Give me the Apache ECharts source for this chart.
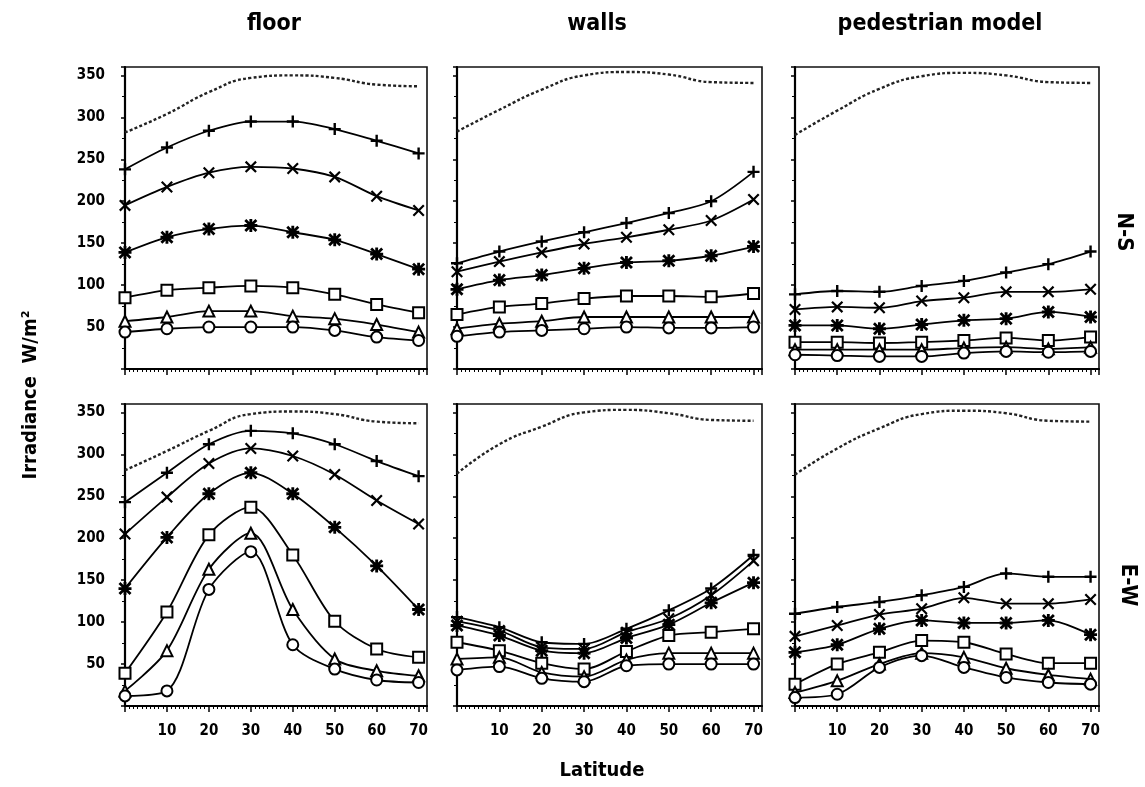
<!DOCTYPE html>
<html>
<head>
<meta charset="utf-8">
<script src="https://cdn.jsdelivr.net/npm/echarts@6/dist/echarts.min.js"></script>
<style>html,body{margin:0;padding:0;background:#fff}#c{width:1145px;height:787px}</style>
</head>
<body>
<div id="c"></div>
<script>
// ---- data ----
const latitude = [0, 10, 20, 30, 40, 50, 60, 70];
const panelTitles = ['floor', 'walls', 'pedestrian model'];
const rowLabels = ['N-S', 'E-W'];
const xTickLabels = [10, 20, 30, 40, 50, 60, 70];
const yTickLabels = [50, 100, 150, 200, 250, 300, 350];
const seriesNames = ['global', 'plus', 'cross', 'asterisk', 'square', 'triangle', 'circle'];

// floor, N-S
const floorNS_global   = [282, 304, 330, 347, 350, 347, 339, 337];
const floorNS_plus     = [238, 264, 284, 295, 295, 286, 272, 257];
const floorNS_cross    = [195, 217, 234, 241, 239, 229, 206, 189];
const floorNS_asterisk = [139, 157, 167, 171, 163, 154, 137, 119];
const floorNS_square   = [85, 94, 97, 99, 97, 89, 77, 67];
const floorNS_triangle = [57, 62, 69, 69, 63, 60, 53, 44];
const floorNS_circle   = [44, 48, 50, 50, 50, 46, 38, 34];
// walls, N-S
const wallsNS_global   = [283, 309, 333, 350, 354, 351, 342, 341];
const wallsNS_plus     = [126, 140, 152, 163, 174, 186, 200, 235];
const wallsNS_cross    = [116, 128, 139, 149, 157, 166, 177, 202];
const wallsNS_asterisk = [95, 106, 112, 120, 127, 129, 135, 146];
const wallsNS_square   = [65, 74, 78, 84, 87, 87, 86, 90];
const wallsNS_triangle = [48, 54, 57, 62, 62, 62, 62, 62];
const wallsNS_circle   = [39, 44, 46, 48, 50, 49, 49, 50];
// pedestrian model, N-S
const pedNS_global   = [279, 308, 334, 349, 353, 350, 342, 341];
const pedNS_plus     = [89, 93, 92, 99, 105, 115, 125, 140];
const pedNS_cross    = [71, 74, 73, 81, 85, 92, 92, 95];
const pedNS_asterisk = [52, 52, 48, 53, 58, 60, 68, 62];
const pedNS_square   = [32, 32, 31, 32, 34, 37, 34, 38];
const pedNS_triangle = [23, 23, 23, 23, 25, 26, 24, 26];
const pedNS_circle   = [17, 16, 15, 15, 19, 21, 20, 21];
// floor, E-W
const floorEW_global   = [281, 304, 328, 348, 351, 348, 339, 337];
const floorEW_plus     = [243, 278, 312, 328, 325, 312, 292, 274];
const floorEW_cross    = [205, 249, 289, 307, 298, 276, 245, 217];
const floorEW_asterisk = [140, 201, 253, 278, 253, 213, 167, 115];
const floorEW_square   = [39, 112, 204, 237, 180, 101, 68, 58];
const floorEW_triangle = [18, 66, 163, 206, 115, 56, 42, 36];
const floorEW_circle   = [12, 18, 139, 184, 73, 44, 31, 28];
// walls, E-W
const wallsEW_global   = [277, 312, 333, 350, 353, 349, 341, 340];
const wallsEW_plus     = [106, 94, 76, 74, 92, 114, 140, 180];
const wallsEW_cross    = [101, 90, 70, 68, 88, 104, 132, 173];
const wallsEW_asterisk = [96, 84, 66, 63, 81, 97, 123, 147];
const wallsEW_square   = [76, 66, 51, 44, 65, 84, 88, 92];
const wallsEW_triangle = [56, 58, 40, 35, 55, 63, 63, 63];
const wallsEW_circle   = [43, 47, 33, 29, 48, 50, 50, 50];
// pedestrian model, E-W
const pedEW_global   = [276, 307, 331, 348, 352, 349, 340, 339];
const pedEW_plus     = [110, 118, 124, 132, 142, 158, 154, 154];
const pedEW_cross    = [83, 96, 109, 116, 129, 122, 122, 127];
const pedEW_asterisk = [64, 73, 92, 102, 99, 99, 102, 85];
const pedEW_square   = [26, 50, 64, 78, 76, 62, 51, 51];
const pedEW_triangle = [16, 30, 50, 63, 58, 45, 37, 32];
const pedEW_circle   = [10, 14, 46, 60, 46, 34, 28, 26];

const panels = [
  [floorNS_global, floorNS_plus, floorNS_cross, floorNS_asterisk, floorNS_square, floorNS_triangle, floorNS_circle],
  [wallsNS_global, wallsNS_plus, wallsNS_cross, wallsNS_asterisk, wallsNS_square, wallsNS_triangle, wallsNS_circle],
  [pedNS_global, pedNS_plus, pedNS_cross, pedNS_asterisk, pedNS_square, pedNS_triangle, pedNS_circle],
  [floorEW_global, floorEW_plus, floorEW_cross, floorEW_asterisk, floorEW_square, floorEW_triangle, floorEW_circle],
  [wallsEW_global, wallsEW_plus, wallsEW_cross, wallsEW_asterisk, wallsEW_square, wallsEW_triangle, wallsEW_circle],
  [pedEW_global, pedEW_plus, pedEW_cross, pedEW_asterisk, pedEW_square, pedEW_triangle, pedEW_circle]
];

// ---- layout / style ----
const colLeft = [125, 457, 795];
const colWidth = [302, 305, 304];
const rowTop = [67, 404];
const rowHeight = 302;
const labelFont = "'DejaVu Sans Condensed', 'Liberation Sans Narrow', sans-serif";
const titleFont = "'DejaVu Sans Condensed', 'Liberation Sans', sans-serif";

const PLUS = 'path://M4,0H6V4H10V6H6V10H4V6H0V4H4Z';
const CROSS = 'path://M1.3,0L5,3.7L8.7,0L10,1.3L6.3,5L10,8.7L8.7,10L5,6.3L1.3,10L0,8.7L3.7,5L0,1.3Z';
const STAR = 'path://M3.9,0H6.1V3.9H10V6.1H6.1V10H3.9V6.1H0V3.9H3.9Z M1.5,0L5,3.5L8.5,0L10,1.5L6.5,5L10,8.5L8.5,10L5,6.5L1.5,10L0,8.5L3.5,5L0,1.5Z';

function markerStyle(k) {
  switch (k) {
    case 1: return {symbol: PLUS, symbolSize: 12, itemStyle: {color: '#000'}};
    case 2: return {symbol: CROSS, symbolSize: 12, itemStyle: {color: '#000'}};
    case 3: return {symbol: STAR, symbolSize: 13, itemStyle: {color: '#000'}};
    case 4: return {symbol: 'rect', symbolSize: 11, itemStyle: {color: '#fff', borderColor: '#000', borderWidth: 2}};
    case 5: return {symbol: 'triangle', symbolSize: 11, itemStyle: {color: '#fff', borderColor: '#000', borderWidth: 2}};
    case 6: return {symbol: 'circle', symbolSize: 11, itemStyle: {color: '#fff', borderColor: '#000', borderWidth: 2}};
  }
}

const grid = [], xAxis = [], yAxis = [], series = [];
for (let p = 0; p < 6; p++) {
  const r = Math.floor(p / 3), c = p % 3;
  grid.push({left: colLeft[c], top: rowTop[r], width: colWidth[c], height: rowHeight,
    show: true, borderColor: '#111', borderWidth: 1.6, backgroundColor: 'transparent'});
  xAxis.push({
    type: 'value', gridIndex: p, min: 0, max: 72, interval: 10,
    axisLine: {show: true, onZero: false, lineStyle: {color: '#000', width: 2.2}},
    axisTick: {show: true, length: 6, lineStyle: {color: '#000', width: 1.5}},
    minorTick: {show: true, splitNumber: 10, length: 3, lineStyle: {color: '#000', width: 1}},
    splitLine: {show: false},
    axisLabel: {show: r === 1, margin: 18, color: '#000', fontFamily: labelFont, fontWeight: 'bold', fontSize: 15,
      formatter: v => xTickLabels.includes(v) ? String(v) : ''}
  });
  yAxis.push({
    type: 'value', gridIndex: p, min: 0, max: 360, interval: 50,
    axisLine: {show: true, onZero: false, lineStyle: {color: '#000', width: 2.2}},
    axisTick: {show: true, length: 4, lineStyle: {color: '#000', width: 1.5}},
    minorTick: {show: true, splitNumber: 2, length: 3, lineStyle: {color: '#000', width: 1}},
    splitLine: {show: false},
    axisLabel: {show: c === 0, margin: 20, color: '#000', fontFamily: labelFont, fontWeight: 'bold', fontSize: 15,
      formatter: v => yTickLabels.includes(v) ? String(v) : ''}
  });
  panels[p].forEach((vals, k) => {
    const data = latitude.map((x, i) => [x, vals[i]]);
    if (k === 0) {
      series.push({type: 'line', name: seriesNames[k], xAxisIndex: p, yAxisIndex: p, data,
        smooth: true, showSymbol: false, symbol: 'none',
        lineStyle: {color: '#222', width: 2.4, type: [3, 2.2]}, z: 2, silent: true});
    } else {
      series.push(Object.assign({type: 'line', name: seriesNames[k], xAxisIndex: p, yAxisIndex: p, data,
        smooth: 0.3, showSymbol: true, lineStyle: {color: '#000', width: 1.8}, z: 3, silent: true}, markerStyle(k)));
    }
  });
}

const graphic = [
  {type: 'text', x: 274, y: 24, style: {text: panelTitles[0], font: "bold 23px " + titleFont, fill: '#000', align: 'center', verticalAlign: 'middle'}},
  {type: 'text', x: 597, y: 24, style: {text: panelTitles[1], font: "bold 23px " + titleFont, fill: '#000', align: 'center', verticalAlign: 'middle'}},
  {type: 'text', x: 940, y: 24, style: {text: panelTitles[2], font: "bold 23px " + titleFont, fill: '#000', align: 'center', verticalAlign: 'middle'}},
  {type: 'text', x: 1124, y: 232, rotation: -Math.PI / 2, style: {text: rowLabels[0], font: "bold 22px " + titleFont, fill: '#000', align: 'center', verticalAlign: 'middle'}},
  {type: 'text', x: 1128, y: 585, rotation: -Math.PI / 2, style: {text: rowLabels[1], font: "bold 22px " + titleFont, fill: '#000', align: 'center', verticalAlign: 'middle'}},
  {type: 'text', x: 31, y: 395, rotation: Math.PI / 2, style: {text: 'Irradiance  W/m²', font: "bold 20px " + labelFont, fill: '#000', align: 'center', verticalAlign: 'middle'}},
  {type: 'text', x: 602, y: 771, style: {text: 'Latitude', font: "bold 20px " + labelFont, fill: '#000', align: 'center', verticalAlign: 'middle'}}
];

const chart = echarts.init(document.getElementById('c'), null, {renderer: 'canvas'});
chart.setOption({animation: false, backgroundColor: '#fff', grid, xAxis, yAxis, series, graphic});
</script>
</body>
</html>
